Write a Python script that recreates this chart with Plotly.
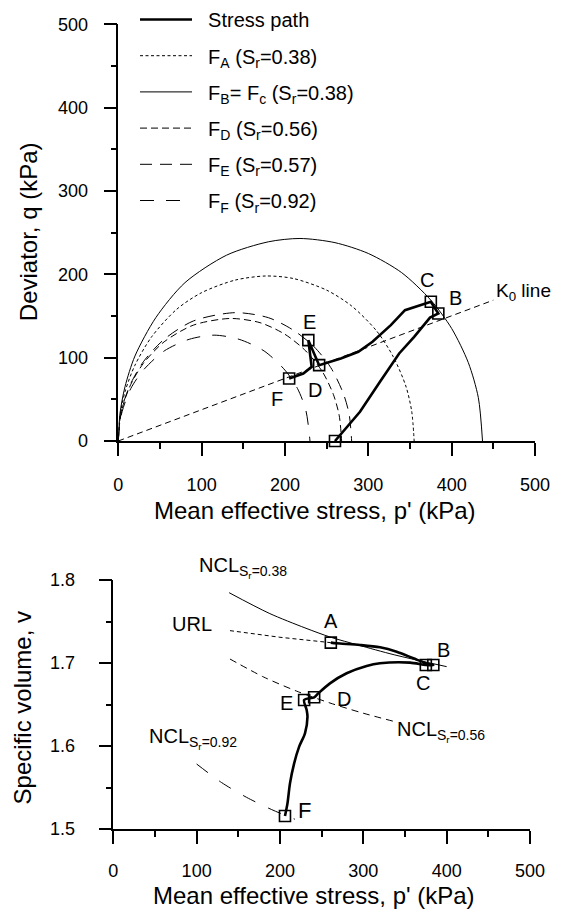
import plotly.graph_objects as go

# ---------------- data: q-p plane ----------------
path_p = [260, 290, 314, 337, 355, 374, 384, 375, 344, 327, 305, 288, 267, 247, 241, 228, 232, 222, 205]
path_q = [0, 35, 71, 105, 125, 148, 153, 167, 157, 139, 119, 107, 99, 93, 91, 121, 89, 81, 75]

pts_p = [260, 384, 375, 241, 228, 205]
pts_q = [0, 153, 167, 91, 121, 75]
pts_lbl = ["A", "B", "C", "D", "E", "F"]
lbl_p = [254, 405, 370, 236, 230, 190]
lbl_q = [-26, 172, 193, 61, 143, 51]

fa_p = [0, 2, 8, 20, 40, 70, 100, 140, 177, 210, 250, 280, 310, 330, 345, 352, 355]
fa_q = [0, 30, 59, 91, 125, 158, 178, 193, 198, 195, 181, 162, 132, 101, 66, 36, 0]

fb_p = [0, 2, 8, 20, 45, 80, 130, 180, 218, 260, 300, 340, 375, 400, 420, 432, 437]
fb_q = [0, 33, 65, 102, 148, 190, 223, 239, 243, 238, 225, 202, 169, 135, 94, 52, 0]

fd_p = [0, 2, 6, 15, 30, 55, 90, 134, 170, 200, 225, 245, 258, 265, 268]
fd_q = [0, 25, 44, 68, 93, 119, 139, 147, 142, 128, 108, 83, 56, 31, 0]

fe_p = [0, 2, 6, 15, 30, 55, 90, 140, 180, 210, 235, 255, 270, 277, 280]
fe_q = [0, 26, 45, 69, 95, 122, 144, 154, 148, 133, 113, 88, 57, 32, 0]

ff_p = [0, 2, 6, 15, 30, 55, 85, 115, 145, 175, 200, 215, 225, 230]
ff_q = [0, 24, 40, 63, 85, 108, 122, 127, 122, 108, 85, 63, 37, 0]

k0_p = [0, 450]
k0_q = [0, 169]

# ---------------- data: v-p plane ----------------
vpath_p = [261, 268, 296, 320, 340, 360, 378, 384, 375, 356, 320, 304, 280, 260, 246, 241, 229,
           232, 233, 230, 223, 217, 212, 209, 206]
vpath_v = [1.7245, 1.7237, 1.7217, 1.7189, 1.7136, 1.7057, 1.6988, 1.6976, 1.6976, 1.7004, 1.6996,
           1.6964, 1.6876, 1.6755, 1.6635, 1.6587, 1.6554, 1.6434, 1.6353, 1.6153, 1.5992, 1.5791,
           1.5550, 1.5309, 1.5157]
vpts_p = [261, 384, 375, 241, 229, 206]
vpts_v = [1.7245, 1.6976, 1.6976, 1.6587, 1.6554, 1.5157]
vlbl_p = [261, 396, 372, 277, 208, 229]
vlbl_v = [1.7508, 1.7157, 1.6765, 1.6566, 1.6518, 1.522]

ncl38_p = [139, 187, 230, 261, 294, 337, 400]
ncl38_v = [1.7847, 1.7599, 1.7423, 1.7310, 1.7216, 1.7099, 1.6956]
url_p = [140, 200, 261]
url_v = [1.7390, 1.7310, 1.7245]
ncl56_p = [140, 180, 220, 260, 300, 338]
ncl56_v = [1.7048, 1.6833, 1.6661, 1.6518, 1.6395, 1.6293]
ncl92_p = [100, 130, 160, 190, 218]
ncl92_v = [1.5783, 1.5559, 1.5381, 1.5234, 1.5117]

x_ticks = [0, 100, 200, 300, 400, 500]
q_ticks = [0, 100, 200, 300, 400, 500]
v_ticks = [1.5, 1.6, 1.7, 1.8]
v_ticktext = ["1.5", "1.6", "1.7", "1.8"]

FONT = "Liberation Sans, Arial, sans-serif"
BLK = "black"
SP = "\u00a0\u00a0"

fig = go.Figure()

def add_line(x, y, dash, width, name, xa="x", ya="y", legend=True, group=None, spline=True):
    fig.add_trace(go.Scatter(
        x=x, y=y, mode="lines", name=name, xaxis=xa, yaxis=ya,
        line=dict(color=BLK, width=width, dash=dash, shape="spline" if spline else "linear",
                  smoothing=0.8),
        showlegend=legend, legendgroup=group or name, cliponaxis=False, hoverinfo="skip"))

# top panel
add_line(path_p, path_q, "solid", 2.6, SP + "Stress path", spline=False)
add_line(fa_p, fa_q, "3px,2.5px", 1, SP + "F<sub>A</sub> (S<sub>r</sub>=0.38)")
add_line(fb_p, fb_q, "solid", 1, SP + "F<sub>B</sub>= F<sub>c</sub> (S<sub>r</sub>=0.38)")
add_line(fd_p, fd_q, "7px,4px", 1, SP + "F<sub>D</sub> (S<sub>r</sub>=0.56)")
add_line(fe_p, fe_q, "12px,8px", 1, SP + "F<sub>E</sub> (S<sub>r</sub>=0.57)")
add_line(ff_p, ff_q, "14px,12px", 1, SP + "F<sub>F</sub> (S<sub>r</sub>=0.92)")
add_line(k0_p, k0_q, "6px,4px", 1, "K0", legend=False, spline=False)
fig.add_trace(go.Scatter(x=pts_p, y=pts_q, mode="markers", showlegend=False, cliponaxis=False,
                         marker=dict(symbol="square-open", size=11, color=BLK, line=dict(width=1.6)),
                         hoverinfo="skip"))

# bottom panel
add_line(ncl38_p, ncl38_v, "solid", 1, "NCL38", "x2", "y2", legend=False)
add_line(url_p, url_v, "4px,3px", 1, "URL", "x2", "y2", legend=False, spline=False)
add_line(ncl56_p, ncl56_v, "7px,5px", 1, "NCL56", "x2", "y2", legend=False)
add_line(ncl92_p, ncl92_v, "14px,14px", 1, "NCL92", "x2", "y2", legend=False)
add_line(vpath_p, vpath_v, "solid", 2.6, "vpath", "x2", "y2", legend=False)
fig.add_trace(go.Scatter(x=vpts_p, y=vpts_v, mode="markers", showlegend=False, cliponaxis=False,
                         xaxis="x2", yaxis="y2",
                         marker=dict(symbol="square-open", size=11, color=BLK, line=dict(width=1.6)),
                         hoverinfo="skip"))

def txt(size):
    return dict(size=size, family=FONT, color=BLK)

annos = []
for p, q, t in zip(lbl_p, lbl_q, pts_lbl):
    annos.append(dict(x=p, y=q, xref="x", yref="y", text=t, showarrow=False,
                      xanchor="center", yanchor="middle", font=txt(20)))
annos.append(dict(x=451, y=179, xref="x", yref="y", text="K<sub>0</sub> line", showarrow=False,
                  xanchor="left", yanchor="middle", font=txt(19)))
for p, v, t in zip(vlbl_p, vlbl_v, pts_lbl):
    annos.append(dict(x=p, y=v, xref="x2", yref="y2", text=t, showarrow=False,
                      xanchor="center", yanchor="middle", font=txt(22 if t == "F" else 20)))
annos += [
    dict(x=197 / 562, y=1 - 567 / 910, xref="paper", yref="paper", xanchor="left",
         yanchor="middle", text="NCL<sub>S<sub>r</sub>=0.38</sub>", showarrow=False, font=txt(20)),
    dict(x=121, y=1.747, xref="x2", yref="y2", xanchor="right", yanchor="middle", text="URL",
         showarrow=False, font=txt(20)),
    dict(x=41, y=1.6096, xref="x2", yref="y2", xanchor="left", yanchor="middle",
         text="NCL<sub>S<sub>r</sub>=0.92</sub>", showarrow=False, font=txt(20)),
    dict(x=338, y=1.6169, xref="x2", yref="y2", xanchor="left", yanchor="middle",
         text="NCL<sub>S<sub>r</sub>=0.56</sub>", showarrow=False, font=txt(20)),
]
# axis titles
annos += [
    dict(x=29.2 / 562, y=1 - 232 / 910, xref="paper", yref="paper", text="Deviator, q (kPa)",
         textangle=-90, showarrow=False, xanchor="center", yanchor="middle", font=txt(24)),
    dict(x=22.4 / 562, y=1 - 708 / 910, xref="paper", yref="paper", text="Specific volume, v",
         textangle=-90, showarrow=False, xanchor="center", yanchor="middle", font=txt(24)),
    dict(x=314.5 / 562, y=1 - 510 / 910, xref="paper", yref="paper",
         text="Mean effective stress, p' (kPa)", showarrow=False,
         xanchor="center", yanchor="middle", font=txt(24)),
    dict(x=314 / 562, y=1 - 895 / 910, xref="paper", yref="paper",
         text="Mean effective stress, p' (kPa)", showarrow=False,
         xanchor="center", yanchor="middle", font=txt(24)),
]

ax_common = dict(showline=True, linecolor=BLK, linewidth=1.5, ticks="outside", ticklen=13,
                 tickwidth=1.5, tickcolor=BLK, showgrid=False, zeroline=False, automargin=False,
                 tickfont=txt(18))
minor_x = dict(dtick=50, ticklen=6, ticks="outside", tickwidth=1.5, tickcolor=BLK)

fig.update_layout(
    width=562, height=910, margin=dict(l=0, r=0, t=0, b=0, pad=0),
    paper_bgcolor="white", plot_bgcolor="white",
    font=dict(family=FONT, color=BLK),
    xaxis=dict(domain=[118.3 / 562, 535 / 562], range=[0, 500], tickvals=x_ticks,
               anchor="y", ticklabelstandoff=14, minor=minor_x, **ax_common),
    yaxis=dict(domain=[1 - 441 / 910, 1 - 24.3 / 910], range=[0, 500], tickvals=q_ticks,
               anchor="x", ticklabelstandoff=12, minor=minor_x, **ax_common),
    xaxis2=dict(domain=[113.3 / 562, 530 / 562], range=[0, 500], tickvals=x_ticks,
                anchor="y2", ticklabelstandoff=12, minor=minor_x, **ax_common),
    yaxis2=dict(domain=[1 - 829 / 910, 1 - 580 / 910], range=[1.5, 1.8], tickvals=v_ticks,
                ticktext=v_ticktext, anchor="x2", ticklabelstandoff=20,
                minor=dict(dtick=0.05, ticklen=6, ticks="outside", tickwidth=1.5, tickcolor=BLK),
                **ax_common),
    legend=dict(x=135 / 562, y=1.0, xanchor="left", yanchor="top",
                bgcolor="rgba(0,0,0,0)", font=txt(20), itemwidth=52,
                tracegroupgap=7.2, traceorder="grouped"),
    annotations=annos,
    showlegend=True,
)

fig.write_html("out.html", config={"displayModeBar": False},
               post_script="document.body.style.margin='0';")
